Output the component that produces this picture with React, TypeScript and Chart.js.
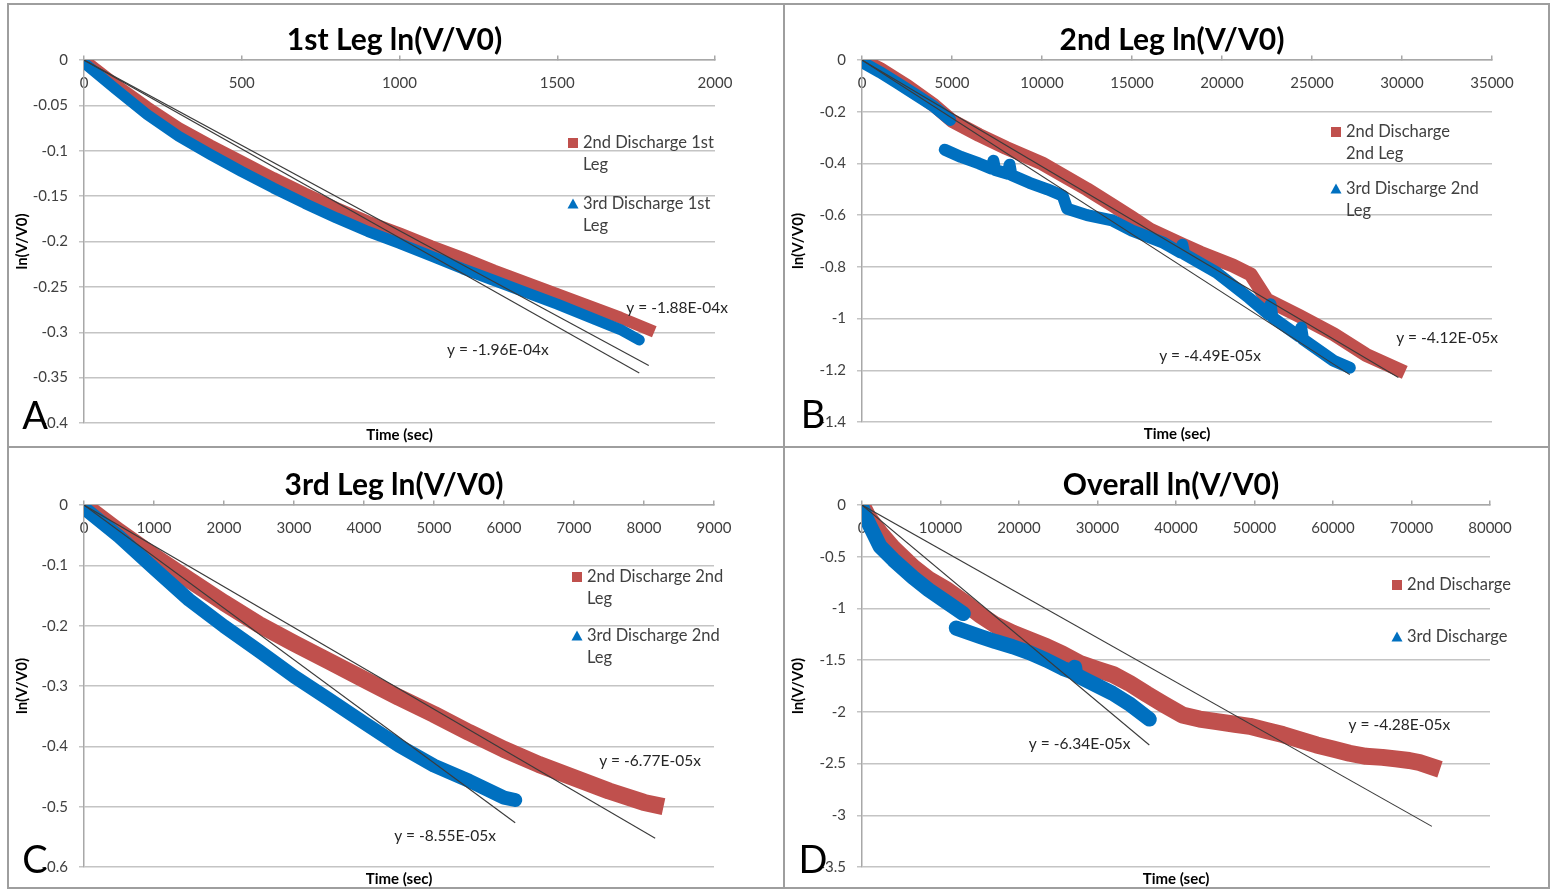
import React, { useEffect, useRef } from 'react';
import { Chart, registerables } from 'chart.js';

Chart.register(...registerables);

const FONT = 'Lato, "Open Sans", "DejaVu Sans", sans-serif';
const RED = '#C0504D';
const BLUE = '#0070C0';
const TREND = '#3a3a3a';
const GRID = '#c4c4c4';
const AXIS = '#a8a8a8';
const TEXT = '#404040';
const FRAME = '#9e9e9e';

// ---------------- Panel A : 1st Leg ----------------
const legA_xTicks = [0, 500, 1000, 1500, 2000];
const legA_yTicks = [0, -0.05, -0.1, -0.15, -0.2, -0.25, -0.3, -0.35, -0.4];
const legA_time2 = [0, 100, 200, 300, 400, 500, 600, 700, 800, 900, 1000, 1100, 1200, 1300, 1400, 1500, 1600, 1700, 1790];
const legA_ln2 = [0, -0.027, -0.052, -0.075, -0.094, -0.112, -0.13, -0.147, -0.163, -0.178, -0.191, -0.205, -0.218, -0.232, -0.245, -0.258, -0.271, -0.284, -0.297];
const legA_time3 = [0, 100, 200, 300, 400, 500, 600, 700, 800, 900, 1000, 1100, 1200, 1300, 1400, 1500, 1600, 1700, 1760];
const legA_ln3 = [-0.003, -0.032, -0.06, -0.084, -0.104, -0.123, -0.141, -0.158, -0.174, -0.189, -0.202, -0.216, -0.23, -0.243, -0.256, -0.269, -0.283, -0.297, -0.3085];
const legA_slopes = [-1.88e-4, -1.96e-4];
const legA_equations = ['y = -1.88E-04x', 'y = -1.96E-04x'];
const legA_legend = [['2nd Discharge 1st', 'Leg'], ['3rd Discharge 1st', 'Leg']];

// ---------------- Panel B : 2nd Leg ----------------
const legB_xTicks = [0, 5000, 10000, 15000, 20000, 25000, 30000, 35000];
const legB_yTicks = [0, -0.2, -0.4, -0.6, -0.8, -1, -1.2, -1.4];
const legB_time2 = [0, 1000, 2500, 4000, 5000, 6500, 8000, 10000, 12500, 14000, 15000, 16000, 17800, 18800, 20600, 21600, 22500, 24300, 26200, 28000, 29800];
const legB_ln2 = [0, -0.035, -0.1, -0.175, -0.235, -0.29, -0.34, -0.4, -0.5, -0.565, -0.61, -0.656, -0.714, -0.745, -0.795, -0.83, -0.927, -0.99, -1.06, -1.14, -1.197];
const legB_time3a = [0, 1000, 2000, 3000, 4000, 4900];
const legB_ln3a = [-0.008, -0.047, -0.09, -0.135, -0.18, -0.232];
const legB_time3b = [4600, 5500, 6500, 7200, 7300, 7400, 8100, 8200, 8300, 9300, 10300, 11150, 11400, 12500, 13900, 15000, 16700, 17700, 17800, 17900, 19700, 21500, 22600, 22700, 22800, 24300, 24400, 24500, 26200, 27100];
const legB_ln3b = [-0.347, -0.375, -0.4, -0.42, -0.39, -0.425, -0.44, -0.405, -0.445, -0.475, -0.5, -0.525, -0.575, -0.6, -0.62, -0.66, -0.705, -0.745, -0.715, -0.75, -0.822, -0.92, -0.985, -0.945, -0.995, -1.07, -1.035, -1.08, -1.163, -1.19];
const legB_slopes = [-4.12e-5, -4.49e-5];
const legB_equations = ['y = -4.12E-05x', 'y = -4.49E-05x'];
const legB_legend = [['2nd Discharge', '2nd Leg'], ['3rd Discharge 2nd', 'Leg']];

// ---------------- Panel C : 3rd Leg ----------------
const legC_xTicks = [0, 1000, 2000, 3000, 4000, 5000, 6000, 7000, 8000, 9000];
const legC_yTicks = [0, -0.1, -0.2, -0.3, -0.4, -0.5, -0.6];
const legC_time2 = [0, 500, 1000, 1500, 2000, 2500, 3000, 3500, 4000, 4500, 5000, 5500, 6000, 6500, 7000, 7500, 8000, 8160];
const legC_ln2 = [0, -0.044, -0.085, -0.124, -0.162, -0.198, -0.229, -0.259, -0.289, -0.319, -0.347, -0.377, -0.405, -0.43, -0.452, -0.474, -0.493, -0.497];
const legC_time3 = [0, 500, 1000, 1500, 2000, 2500, 3000, 3500, 4000, 4500, 5000, 5500, 6000, 6160];
const legC_ln3 = [-0.005, -0.052, -0.105, -0.157, -0.201, -0.242, -0.284, -0.322, -0.361, -0.399, -0.432, -0.457, -0.485, -0.489];
const legC_slopes = [-6.77e-5, -8.55e-5];
const legC_equations = ['y = -6.77E-05x', 'y = -8.55E-05x'];
const legC_legend = [['2nd Discharge 2nd', 'Leg'], ['3rd Discharge 2nd', 'Leg']];

// ---------------- Panel D : Overall ----------------
const allD_xTicks = [0, 10000, 20000, 30000, 40000, 50000, 60000, 70000, 80000];
const allD_yTicks = [0, -0.5, -1, -1.5, -2, -2.5, -3, -3.5];
const allD_time2 = [0, 800, 2300, 4000, 6500, 8500, 10800, 13000, 15000, 17000, 19200, 21500, 23500, 25500, 27700, 30000, 32000, 34000, 36300, 38500, 40800, 43000, 45200, 47500, 49400, 51500, 53600, 55800, 57900, 60000, 62100, 64200, 66300, 68000, 69700, 71000, 72600];
const allD_ln2 = [0, -0.12, -0.27, -0.42, -0.6, -0.72, -0.82, -0.94, -1.06, -1.16, -1.24, -1.31, -1.37, -1.44, -1.53, -1.59, -1.64, -1.72, -1.83, -1.93, -2.03, -2.07, -2.095, -2.12, -2.14, -2.18, -2.22, -2.27, -2.32, -2.36, -2.4, -2.43, -2.44, -2.455, -2.47, -2.49, -2.53];
const allD_time3a = [0, 500, 1000, 2300, 4000, 6500, 8500, 10800, 12900];
const allD_ln3a = [-0.02, -0.12, -0.2, -0.4, -0.53, -0.7, -0.82, -0.94, -1.05];
const allD_time3b = [12000, 15000, 17000, 19200, 21400, 23500, 25600, 27000, 27100, 27200, 27700, 29800, 31900, 34000, 36600];
const allD_ln3b = [-1.19, -1.27, -1.32, -1.37, -1.43, -1.5, -1.58, -1.62, -1.57, -1.63, -1.66, -1.74, -1.82, -1.92, -2.07];
const allD_slopes = [-4.28e-5, -6.34e-5];
const allD_equations = ['y = -4.28E-05x', 'y = -6.34E-05x'];
const allD_legend = [['2nd Discharge'], ['3rd Discharge']];

type Seg = [number[], number[]];
interface SeriesCfg {
  segments: Seg[];
  slope: number;
  eq: string;
  eqAt: [number, number];
  width: number;
  legend: string[];
  legendAt: [number, number];
}
interface PanelCfg {
  title: string;
  letter: string;
  canvas: { left: number; top: number; width: number; height: number };
  area: { left: number; top: number; right: number; bottom: number };
  xTicks: number[];
  yTicks: number[];
  red: SeriesCfg;
  blue: SeriesCfg;
}

const panels: PanelCfg[] = [
  {
    title: '1st Leg ln(V/V0)', letter: 'A',
    canvas: { left: 9, top: 5, width: 773, height: 441 },
    area: { left: 84, top: 60, right: 715, bottom: 423 },
    xTicks: legA_xTicks, yTicks: legA_yTicks,
    red: { segments: [[legA_time2, legA_ln2]], slope: legA_slopes[0], eq: legA_equations[0], eqAt: [1880, -0.2733], width: 12, legend: legA_legend[0], legendAt: [-142, 83] },
    blue: { segments: [[legA_time3, legA_ln3]], slope: legA_slopes[1], eq: legA_equations[1], eqAt: [1312, -0.3196], width: 11, legend: legA_legend[1], legendAt: [-142, 144] },
  },
  {
    title: '2nd Leg ln(V/V0)', letter: 'B',
    canvas: { left: 785, top: 5, width: 763, height: 441 },
    area: { left: 862, top: 60, right: 1492, bottom: 422 },
    xTicks: legB_xTicks, yTicks: legB_yTicks,
    red: { segments: [[legB_time2, legB_ln2]], slope: legB_slopes[0], eq: legB_equations[0], eqAt: [32500, -1.077], width: 14, legend: legB_legend[0], legendAt: [-156, 72] },
    blue: { segments: [[legB_time3a, legB_ln3a], [legB_time3b, legB_ln3b]], slope: legB_slopes[1], eq: legB_equations[1], eqAt: [19333, -1.143], width: 12, legend: legB_legend[1], legendAt: [-156, 129] },
  },
  {
    title: '3rd Leg ln(V/V0)', letter: 'C',
    canvas: { left: 9, top: 449, width: 773, height: 438 },
    area: { left: 84, top: 505, right: 714, bottom: 868 },
    xTicks: legC_xTicks, yTicks: legC_yTicks,
    red: { segments: [[legC_time2, legC_ln2]], slope: legC_slopes[0], eq: legC_equations[0], eqAt: [8086, -0.4248], width: 17, legend: legC_legend[0], legendAt: [-137, 72] },
    blue: { segments: [[legC_time3, legC_ln3]], slope: legC_slopes[1], eq: legC_equations[1], eqAt: [5157, -0.5488], width: 14, legend: legC_legend[1], legendAt: [-137, 131] },
  },
  {
    title: 'Overall ln(V/V0)', letter: 'D',
    canvas: { left: 785, top: 449, width: 763, height: 438 },
    area: { left: 862, top: 505, right: 1490, bottom: 867 },
    xTicks: allD_xTicks, yTicks: allD_yTicks,
    red: { segments: [[allD_time2, allD_ln2]], slope: allD_slopes[0], eq: allD_equations[0], eqAt: [68448, -2.124], width: 17, legend: allD_legend[0], legendAt: [-93, 80] },
    blue: { segments: [[allD_time3a, allD_ln3a], [allD_time3b, allD_ln3b]], slope: allD_slopes[1], eq: allD_equations[1], eqAt: [27735, -2.307], width: 15, legend: allD_legend[1], legendAt: [-93, 132] },
  },
];

const zip = (xs: number[], ys: number[]) => xs.map((x, i) => ({ x, y: ys[i] }));

function makeDecor(p: PanelCfg) {
  return {
    id: 'decor' + p.letter,
    afterDraw(chart: any) {
      const { ctx, chartArea: a, scales } = chart;
      ctx.save();
      ctx.textAlign = 'center';
      ctx.textBaseline = 'middle';
      // title
      ctx.fillStyle = '#000';
      ctx.font = `bold 30px ${FONT}`;
      ctx.fillText(p.title, (a.left + a.right) / 2 - 5, a.top - 20);
      // x axis title
      ctx.font = `bold 15px ${FONT}`;
      ctx.fillText('Time (sec)', (a.left + a.right) / 2, a.bottom + 12);
      // trendline equations
      ctx.font = `15.5px ${FONT}`;
      ctx.fillStyle = '#262626';
      for (const s of [p.red, p.blue]) {
        ctx.fillText(s.eq, scales.x.getPixelForValue(s.eqAt[0]), scales.y.getPixelForValue(s.eqAt[1]));
      }
      // legend
      ctx.textAlign = 'left';
      ctx.font = `16.5px ${FONT}`;
      const items: [SeriesCfg, string, string][] = [[p.red, RED, 'rect'], [p.blue, BLUE, 'triangle']];
      for (const [s, color, marker] of items) {
        const mx = a.right + s.legendAt[0];
        const my = a.top + s.legendAt[1];
        ctx.fillStyle = color;
        if (marker === 'rect') {
          ctx.fillRect(mx - 5, my - 5, 10, 10);
        } else {
          ctx.beginPath();
          ctx.moveTo(mx, my - 5.5);
          ctx.lineTo(mx + 5.5, my + 4.5);
          ctx.lineTo(mx - 5.5, my + 4.5);
          ctx.closePath();
          ctx.fill();
        }
        ctx.fillStyle = TEXT;
        s.legend.forEach((t, i) => ctx.fillText(t, mx + 10, my + i * 22));
      }
      // panel letter
      ctx.textAlign = 'center';
      ctx.fillStyle = '#000';
      ctx.font = `38px ${FONT}`;
      ctx.fillText(p.letter, a.left - 49, a.bottom - 6);
      ctx.restore();
    },
  };
}

function buildConfig(p: PanelCfg): any {
  const yAxisWidth = p.area.left - p.canvas.left;
  const padding = {
    left: 0,
    top: p.area.top - p.canvas.top,
    right: p.canvas.left + p.canvas.width - p.area.right,
    bottom: p.canvas.top + p.canvas.height - p.area.bottom,
  };
  const datasets: any[] = [];
  for (const s of [p.red, p.blue]) {
    const xEnd = Math.max(...s.segments.map((seg) => seg[0][seg[0].length - 1]));
    datasets.push({
      label: s.eq,
      data: [{ x: 0, y: 0 }, { x: xEnd, y: s.slope * xEnd }],
      showLine: true,
      borderColor: TREND,
      borderWidth: 1.1,
      pointRadius: 0,
      order: 0,
    });
  }
  const addSeries = (s: SeriesCfg, color: string, order: number, cap: string) => {
    s.segments.forEach((seg) => {
      datasets.push({
        label: s.legend.join(' '),
        data: zip(seg[0], seg[1]),
        showLine: true,
        borderColor: color,
        backgroundColor: color,
        borderWidth: s.width,
        borderJoinStyle: 'round',
        borderCapStyle: cap,
        tension: 0,
        pointRadius: 0,
        order,
      });
    });
  };
  addSeries(p.blue, BLUE, 1, 'round');
  addSeries(p.red, RED, 2, 'square');

  const xMax = p.xTicks[p.xTicks.length - 1];
  const yMin = p.yTicks[p.yTicks.length - 1];
  return {
    type: 'scatter',
    data: { datasets },
    plugins: [makeDecor(p)],
    options: {
      responsive: false,
      animation: false,
      events: [],
      layout: { padding },
      plugins: { legend: { display: false }, tooltip: { enabled: false }, title: { display: false } },
      scales: {
        x: {
          type: 'linear',
          position: { y: 0 },
          min: 0,
          max: xMax,
          afterBuildTicks: (sc: any) => { sc.ticks = p.xTicks.map((v) => ({ value: v })); },
          ticks: {
            autoSkip: false,
            maxRotation: 0,
            padding: 19,
            color: TEXT,
            font: { family: FONT, size: 15 },
            callback: (v: number) => String(v),
          },
          grid: { drawOnChartArea: false, drawTicks: true, tickLength: -5, color: AXIS, lineWidth: 1.5 },
          border: { display: true, color: AXIS, width: 1.5 },
        },
        y: {
          type: 'linear',
          min: yMin,
          max: 0,
          afterBuildTicks: (sc: any) => { sc.ticks = p.yTicks.slice().reverse().map((v) => ({ value: v })); },
          afterFit: (sc: any) => { sc.width = yAxisWidth; },
          ticks: {
            autoSkip: false,
            padding: 11,
            color: TEXT,
            font: { family: FONT, size: 15 },
            callback: (v: number) => String(v),
          },
          grid: { color: GRID, lineWidth: 1.5, tickLength: 5, drawTicks: true },
          border: { display: true, color: AXIS, width: 1.5 },
          title: { display: true, text: 'ln(V/V0)', color: '#000', font: { family: FONT, size: 15, weight: 'bold' }, padding: { top: 4, bottom: 4 } },
        },
      },
    },
  };
}

function Panel({ p }: { p: PanelCfg }) {
  const ref = useRef<HTMLCanvasElement>(null);
  useEffect(() => {
    const chart = new Chart(ref.current as HTMLCanvasElement, buildConfig(p));
    return () => chart.destroy();
  }, [p]);
  return (
    <canvas
      ref={ref}
      width={p.canvas.width}
      height={p.canvas.height}
      style={{ position: 'absolute', left: p.canvas.left, top: p.canvas.top, width: p.canvas.width, height: p.canvas.height, display: 'block' }}
    />
  );
}

const frameLines = [
  { left: 7, top: 3, width: 1543, height: 2 },
  { left: 7, top: 887, width: 1543, height: 2 },
  { left: 7, top: 3, width: 2, height: 886 },
  { left: 1548, top: 3, width: 2, height: 886 },
  { left: 783, top: 3, width: 2, height: 886 },
  { left: 7, top: 446, width: 1543, height: 2 },
];

export default function App() {
  return (
    <div style={{ position: 'absolute', left: 0, top: 0, width: 1551, height: 890, background: '#fff', overflow: 'hidden' }}>
      {panels.map((p) => (
        <Panel key={p.letter} p={p} />
      ))}
      {frameLines.map((l, i) => (
        <div key={i} style={{ position: 'absolute', left: l.left, top: l.top, width: l.width, height: l.height, background: FRAME }} />
      ))}
    </div>
  );
}
